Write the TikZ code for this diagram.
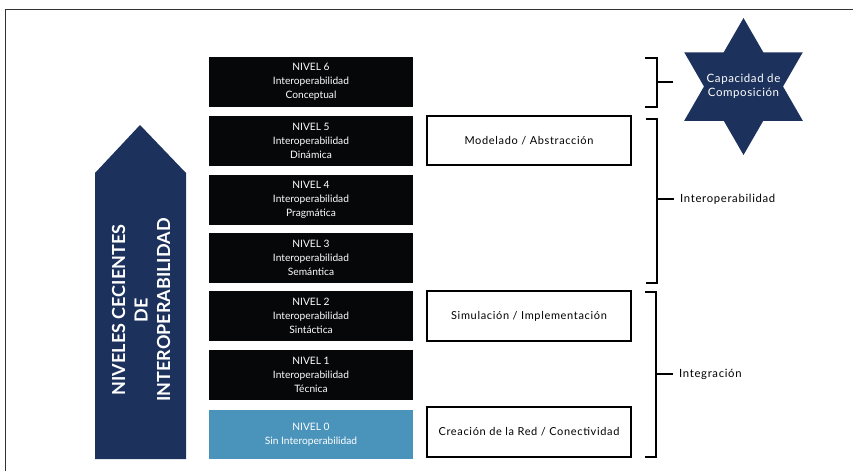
\documentclass[tikz,border=0pt]{standalone}
\usepackage{fontspec}
\setmainfont{Lato}
\definecolor{navy}{HTML}{1C325D}
\definecolor{lblue}{HTML}{4A94BC}
\definecolor{nblack}{HTML}{050708}
\definecolor{framegray}{HTML}{333333}
\begin{document}
\begin{tikzpicture}[x=1pt,y=-1pt,
  levelbox/.style={fill=nblack, text=white, minimum width=204pt, minimum height=50pt,
    inner sep=0pt, align=center, font=\fontsize{10.2}{14.2}\selectfont},
  sidebox/.style={draw=black, line width=1.2pt, fill=white, minimum width=204pt, minimum height=49pt,
    inner sep=0pt, align=center, font=\fontsize{11}{13}\selectfont\addfontfeature{LetterSpace=6}},
  bracket/.style={draw=black, line width=1.5pt},
  sidelabel/.style={anchor=west, inner xsep=6pt, inner ysep=0pt, font=\fontsize{11.3}{13}\selectfont\addfontfeature{LetterSpace=6}}
]
\useasboundingbox (0,0) rectangle (853,471);
% frame
\draw[framegray, line width=1pt] (5,471) -- (5,9) -- (853,9);

% arrow
\fill[navy] (95,459) -- (95,173) -- (140,125) -- (186,173) -- (186,459) -- cycle;
\node[rotate=90, text=white, align=center, font=\fontsize{18}{22.5}\selectfont\bfseries] (arrowtext) at (141,310)
  {NIVELES CECIENTES\\DE\\INTEROPERABILIDAD};

% levels
\node[levelbox] (n6) at (311,82) {NIVEL 6\\Interoperabilidad\\Conceptual};
\node[levelbox] (n5) at (311,141) {NIVEL 5\\Interoperabilidad\\Dinámica};
\node[levelbox] (n4) at (311,199.5) {NIVEL 4\\Interoperabilidad\\Pragmática};
\node[levelbox] (n3) at (311,258) {NIVEL 3\\Interoperabilidad\\Semántica};
\node[levelbox] (n2) at (311,316) {NIVEL 2\\Interoperabilidad\\Sintáctica};
\node[levelbox] (n1) at (311,375) {NIVEL 1\\Interoperabilidad\\Técnica};
\node[levelbox, fill=lblue, minimum height=49pt] (n0) at (311,434.5) {NIVEL 0\\Sin Interoperabilidad};

% side boxes
\node[sidebox] (m5) at (529,140.5) {Modelado / Abstracción};
\node[sidebox, minimum height=50pt] (m2) at (529,316) {Simulación / Implementación};
\node[sidebox, minimum height=50pt] (m0) at (529,432) {Creación de la Red / Conectividad};

% brackets
\draw[bracket] (645,58) -- (657,58) -- (657,107) -- (645,107);
\coordinate (t1) at (657,82);
\coordinate (t1e) at (673,82);
\draw[bracket] (t1) -- (t1e);

\draw[bracket] (646,119) -- (657,119) -- (657,283) -- (646,283);
\coordinate (t2) at (657,199);
\node[sidelabel] (lint) at (674,199) {Interoperabilidad};
\draw[bracket] (t2) -- (lint.west);

\draw[bracket] (645,292) -- (656,292) -- (656,457) -- (645,457);
\coordinate (t3) at (656,374);
\node[sidelabel] (lintg) at (673,374) {Integración};
\draw[bracket] (t3) -- (lintg.west);

% star
\fill[navy] (743.5,18) -- (684.2,120.75) -- (802.8,120.75) -- cycle;
\fill[navy] (743.5,155) -- (684.2,52.25) -- (802.8,52.25) -- cycle;
\node[text=white, align=center, font=\fontsize{11.5}{14}\selectfont\addfontfeature{LetterSpace=5}] (star) at (743.5,86.5)
  {Capacidad de\\Composición};
\end{tikzpicture}
\end{document}
